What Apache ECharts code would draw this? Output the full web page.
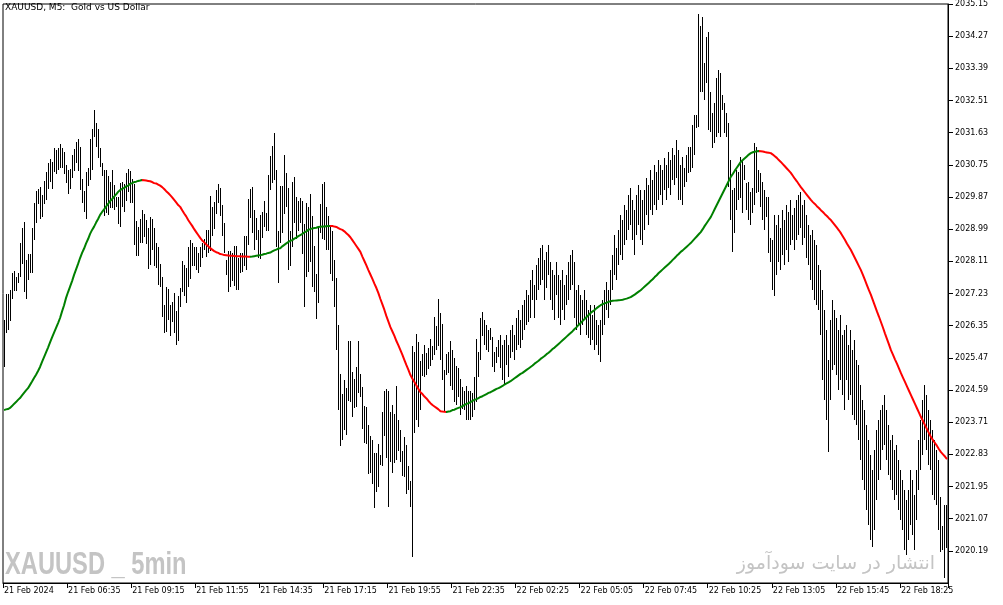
<!DOCTYPE html>
<html><head><meta charset="utf-8">
<script src="https://cdn.jsdelivr.net/npm/echarts@6/dist/echarts.min.js"></script>
<style>html,body{margin:0;padding:0;background:#fff}#c{width:1003px;height:605px}</style>
</head><body><div id="c"></div>
<script>
const tickLabels = ['21 Feb 2024','21 Feb 06:35','21 Feb 09:15','21 Feb 11:55','21 Feb 14:35','21 Feb 17:15','21 Feb 19:55','21 Feb 22:35','22 Feb 02:25','22 Feb 05:05','22 Feb 07:45','22 Feb 10:25','22 Feb 13:05','22 Feb 15:45','22 Feb 18:25'];
const highs = [
2026.50,2027.21,2027.21,2027.32,2027.80,2027.84,2027.69,2027.78,2028.60,2029.01,2029.19,2028.14,2028.32,2028.32,2029.01,2029.71,2030.04,2030.08,2030.15,2029.92,2030.30,2030.56,2030.81,2030.92,2030.83,2031.20,2031.15,2031.20,2031.32,2031.20,2031.11,2030.74,2030.62,2030.63,2031.02,2031.17,2031.38,2031.47,2031.24,2030.35,2030.04,2030.56,2030.67,2031.47,2031.74,2032.26,2031.90,2031.74,2031.20,2030.81,2030.62,2030.60,2030.44,2030.29,2030.60,2030.19,2029.88,2029.88,
2030.25,2030.29,2030.22,2030.52,2030.63,2030.59,2030.36,2030.22,2029.22,2029.04,2029.26,2029.52,2029.41,2029.24,2029.02,2029.32,2029.26,2029.02,2028.62,2028.51,2028.04,2027.69,2026.92,2027.40,2027.35,2026.92,2027.01,2027.24,2026.74,2027.15,2027.37,2028.13,2028.01,2027.92,2028.51,2028.70,2028.62,2028.50,2028.51,2028.35,2028.50,2028.61,2028.72,2028.97,2028.97,2029.90,2029.59,2029.72,2030.07,2030.23,2030.11,2029.65,2029.15,2028.15,2028.38,2028.38,2028.33,2028.53,2028.53,2028.21,
2028.33,2028.35,2028.81,2028.81,2029.81,2030.08,2030.14,2029.52,2029.29,2028.97,2029.38,2029.45,2029.76,2029.43,2030.48,2030.98,2031.27,2031.62,2030.61,2028.95,2030.16,2030.17,2031.02,2030.54,2030.11,2028.95,2030.28,2030.41,2029.86,2029.77,2029.84,2029.77,2029.13,2029.70,2029.59,2029.96,2029.34,2028.53,2027.77,2029.04,2029.68,2030.23,2030.27,2029.59,2029.34,2029.04,2028.95,2028.15,2027.66,2026.37,2025.03,2024.48,2024.87,2024.64,2025.92,2025.92,2025.09,2024.88,2025.21,2025.92,
2025.03,2024.67,2024.16,2024.12,2023.64,2023.34,2023.23,2022.88,2022.86,2023.12,2022.82,2024.00,2024.57,2024.61,2024.55,2024.00,2024.18,2023.94,2024.69,2023.77,2023.50,2022.93,2023.30,2023.09,2022.50,2022.11,2025.80,2025.64,2026.13,2025.89,2025.37,2025.58,2025.83,2025.61,2025.73,2025.98,2025.80,2026.60,2026.35,2027.07,2026.69,2026.40,2025.14,2025.58,2025.64,2025.94,2025.69,2025.46,2025.25,2025.19,2024.89,2024.67,2024.55,2024.70,2024.57,2024.55,2024.52,2024.94,2025.98,2025.64,
2026.56,2026.72,2026.50,2026.37,2026.23,2026.29,2026.04,2025.63,2025.77,2025.96,2026.09,2025.82,2025.96,2026.09,2025.82,2026.23,2026.37,2026.09,2026.56,2026.78,2026.50,2026.91,2027.05,2027.32,2027.19,2027.60,2027.87,2027.46,2028.01,2028.20,
2028.47,2028.56,2028.15,2028.37,2028.56,2028.09,2027.87,2027.74,2028.09,2027.74,2027.60,2027.87,2027.46,2027.74,2028.09,2028.28,2028.42,2028.09,2027.32,2027.46,2027.19,2027.05,2027.32,2027.05,2026.78,2026.91,2026.64,2026.91,2026.50,2026.37,
2026.50,2027.05,2027.32,2027.54,2027.32,2027.87,2028.28,2028.83,2028.47,2028.97,2029.38,2029.24,2029.65,2029.51,2029.92,2030.12,2029.79,2029.51,2029.92,2030.20,2030.06,2029.79,2030.06,2030.39,2030.20,2030.61,2030.34,2030.75,2030.55,2030.88,
2030.75,2030.61,2030.94,2030.75,2031.10,2030.88,2031.21,2031.02,2031.43,2031.16,2030.75,2030.96,2030.66,2031.02,2031.24,2031.24,2031.84,2032.11,2032.11,2034.88,2034.55,2034.79,2033.54,2034.25,2034.38,2032.74,2032.17,2032.44,2033.12,2033.34,
2033.26,2032.66,2032.44,2032.17,2031.89,2030.88,2030.06,2030.12,2030.61,2030.55,2030.96,2030.88,2030.75,2030.25,2030.28,2030.01,2030.12,2031.35,2031.24,2030.61,2030.53,2030.28,2030.06,2029.87,2029.87,2028.75,2028.69,2029.38,2029.10,2029.38,
2029.02,2029.51,2029.24,2029.65,2029.46,2029.79,2029.38,2029.57,2029.79,2029.92,2030.01,2029.65,2029.79,2029.38,2029.10,2028.83,2028.97,2028.69,2028.56,2028.01,2027.87,2027.32,2026.78,2026.23,2025.41,2026.50,2027.05,2026.78,2026.56,2026.23,
2026.64,2026.09,2026.23,2026.37,2025.82,2026.23,2025.68,2025.96,2025.41,2025.27,2024.73,2024.32,2024.04,2023.63,2023.22,2022.81,2022.40,2022.95,2023.49,2023.77,2024.04,2024.18,2024.45,2024.04,2023.63,2023.22,2023.36,2022.95,2023.08,2022.67,
2022.40,2022.13,2021.85,2021.58,2021.85,2022.40,2022.13,2021.72,2022.40,2023.22,2023.77,2024.32,2024.73,2024.45,2024.04,2023.77,2023.49,2023.22,2022.95,2022.67,2021.66,2020.87,2021.44,2021.44
];
const lows = [
2025.22,2026.14,2026.23,2026.48,2027.08,2027.30,2027.30,2027.52,2027.69,2028.05,2027.28,2027.07,2027.60,2027.78,2027.80,2028.69,2029.15,2029.69,2029.28,2029.33,2029.69,2029.78,2030.10,2030.29,2030.10,2030.56,2030.51,2030.60,2030.65,2030.65,2030.50,2030.26,2029.95,2030.10,2030.40,2030.59,2030.79,2030.59,2030.06,2029.71,2029.47,2029.28,2030.17,2030.33,2030.62,2031.52,2031.24,2030.95,2030.70,2030.44,2029.34,2029.42,2029.37,2029.56,2029.58,2029.51,2029.60,2029.13,
2029.06,2029.61,2029.45,2029.75,2030.02,2029.70,2029.70,2028.56,2028.26,2028.26,2028.62,2028.62,2028.77,2028.59,2027.89,2028.01,2028.42,2027.97,2027.92,2027.47,2027.42,2026.60,2026.14,2026.19,2026.51,2026.07,2026.46,2026.14,2025.82,2025.92,2026.85,2027.28,2027.15,2026.96,2027.42,2027.62,2027.97,2027.99,2027.88,2027.79,2027.95,2028.20,2028.41,2028.24,2028.33,2028.38,2028.79,2028.99,2029.41,2029.70,2029.34,2028.79,2028.33,2027.74,2027.26,2027.42,2027.56,2027.44,2027.33,2027.33,
2027.78,2027.83,2027.99,2027.88,2028.56,2029.29,2028.88,2028.41,2028.68,2028.20,2028.17,2028.74,2029.06,2028.93,2028.95,2030.05,2030.25,2030.34,2028.51,2027.53,2028.62,2028.88,2029.41,2029.61,2027.86,2027.99,2028.50,2029.17,2028.72,2028.93,2029.15,2028.31,2026.87,2027.69,2027.83,2028.08,2027.40,2027.26,2026.54,2026.96,2028.88,2028.72,2028.70,2028.42,2028.41,2027.77,2027.56,2026.85,2025.69,2024.03,2023.06,2023.21,2023.50,2023.36,2024.30,2024.25,2023.86,2024.09,2024.12,2024.52,
2024.39,2023.52,2023.13,2023.12,2022.30,2022.33,2022.02,2021.36,2021.81,2021.93,2022.54,2022.51,2023.32,2022.72,2021.40,2022.63,2022.33,2022.59,2022.68,2022.93,2022.61,2022.24,2022.22,2021.75,2021.86,2021.40,2020.02,2023.41,2023.77,2023.57,2024.05,2024.96,2024.94,2025.00,2025.16,2025.25,2025.40,2025.55,2025.69,2025.80,2025.40,2024.87,2024.00,2025.00,2025.05,2024.69,2024.59,2024.27,2024.18,2024.39,2023.91,2024.06,2024.05,2023.77,2023.77,2023.77,2023.85,2024.03,2024.27,2024.94,
2025.41,2026.07,2025.82,2025.68,2025.63,2025.96,2025.22,2025.08,2025.33,2025.49,2025.19,2024.86,2024.73,2025.27,2024.95,2025.46,2025.63,2025.41,2025.68,2025.82,2025.74,2025.96,2026.23,2026.37,2026.45,2026.56,2027.05,2026.56,2027.05,2027.32,
2027.46,2027.60,2027.05,2027.38,2027.74,2027.05,2026.78,2026.50,2027.19,2026.56,2026.37,2026.78,2026.50,2026.91,2027.05,2027.32,2027.46,2026.56,2026.23,2026.37,2026.09,2026.37,2026.50,2026.09,2026.01,2025.82,2025.96,2025.68,2025.82,2025.55,
2025.35,2026.09,2026.37,2026.78,2026.56,2026.91,2027.32,2027.74,2027.60,2028.01,2028.28,2028.15,2028.56,2028.69,2028.97,2029.10,2028.69,2028.28,2028.83,2029.10,2028.69,2028.56,2028.97,2029.38,2029.10,2029.51,2029.38,2029.65,2029.51,2029.79,
2029.92,2029.65,2030.06,2029.79,2030.12,2029.92,2030.34,2030.20,2030.39,2029.79,2029.79,2029.65,2030.14,2030.28,2030.53,2030.55,2030.66,2031.02,2031.76,2031.78,2032.74,2032.74,2032.52,2032.99,2031.70,2031.65,2031.21,2031.35,2031.51,2031.62,
2031.51,2032.25,2031.62,2031.51,2030.14,2029.24,2028.37,2028.88,2029.51,2029.79,2029.84,2029.43,2030.34,2029.51,2029.24,2029.10,2029.43,2029.65,2029.98,2030.01,2029.60,2029.24,2028.97,2029.32,2028.34,2028.09,2027.32,2027.16,2027.74,2028.09,
2027.87,2028.28,2028.01,2028.42,2028.09,2028.56,2028.69,2028.42,2028.69,2028.83,2029.02,2028.56,2028.75,2028.20,2028.01,2027.60,2027.32,2027.05,2026.91,2026.78,2026.09,2024.86,2024.32,2023.77,2022.89,2024.32,2025.14,2025.27,2025.00,2024.59,
2024.86,2024.45,2024.04,2024.86,2024.32,2024.45,2023.90,2023.77,2023.63,2023.22,2022.67,2022.13,2021.85,2021.31,2020.90,2020.49,2020.29,2020.76,2021.58,2022.13,2022.40,2022.95,2023.08,2022.67,2022.26,2022.13,2021.85,2021.58,2021.72,2021.31,
2021.03,2020.76,2020.21,2020.07,2020.49,2020.90,2020.62,2020.21,2021.03,2021.85,2022.40,2022.81,2023.22,2022.95,2022.54,2022.40,2021.72,2021.58,2021.44,2020.76,2020.16,2020.21,2019.45,2020.27
];
const maValues = [
2024.04,2024.06,2024.07,2024.10,2024.15,2024.21,2024.26,2024.32,2024.37,2024.44,2024.51,2024.58,2024.64,2024.73,2024.82,2024.92,2025.01,2025.11,2025.22,2025.36,2025.49,2025.62,2025.75,2025.89,2026.03,2026.16,2026.29,2026.42,2026.56,2026.74,2026.91,2027.11,2027.27,2027.42,2027.57,2027.74,2027.89,2028.04,2028.20,2028.34,2028.46,2028.60,2028.72,2028.86,2028.97,2029.06,2029.17,2029.27,2029.38,2029.46,2029.53,2029.61,2029.68,2029.76,2029.81,2029.88,2029.94,2030.01,2030.06,2030.09,2030.12,2030.16,2030.18,2030.23,2030.25,2030.28,2030.29,2030.31,2030.32,2030.335,
2030.33,2030.32,2030.31,2030.30,2030.28,2030.25,2030.24,2030.21,2030.18,2030.14,2030.09,2030.03,2029.98,2029.92,2029.86,2029.79,2029.72,2029.65,2029.60,2029.51,2029.42,2029.34,2029.24,2029.16,2029.08,2028.99,2028.91,2028.83,2028.75,2028.68,2028.63,2028.57,2028.52,2028.47,2028.43,2028.39,2028.36,2028.34,2028.31,2028.30,2028.28,2028.275,2028.27,2028.265,2028.26,2028.255,2028.25,2028.248,2028.246,2028.244,2028.242,2028.24,2028.238,2028.236,
2028.24,2028.25,2028.26,2028.27,2028.28,2028.29,2028.31,2028.32,2028.34,2028.35,2028.38,2028.41,2028.43,2028.46,2028.47,2028.52,2028.56,2028.60,2028.64,2028.67,2028.69,2028.73,2028.76,2028.80,2028.83,2028.86,2028.90,2028.93,2028.97,2028.99,2029.01,2029.02,2029.03,2029.05,2029.055,2029.06,2029.065,2029.07,2029.075,2029.08,
2029.075,2029.06,2029.05,2029.02,2028.99,2028.97,2028.93,2028.88,2028.83,2028.77,2028.69,2028.61,2028.53,2028.45,2028.37,2028.24,2028.12,2028.00,2027.87,2027.75,2027.63,2027.50,2027.38,2027.24,2027.08,2026.93,2026.78,2026.61,2026.46,2026.31,2026.19,2026.07,2025.93,2025.81,2025.68,2025.55,2025.41,2025.27,2025.14,2025.00,2024.90,2024.81,2024.71,2024.62,2024.53,2024.48,2024.41,2024.36,2024.29,2024.23,2024.18,2024.14,2024.10,2024.06,2024.01,2024.00,2023.995,2023.99,
2024.00,2024.01,2024.04,2024.05,2024.08,2024.10,2024.12,2024.15,2024.18,2024.21,2024.23,2024.26,2024.29,2024.32,2024.34,2024.37,
2024.40,2024.42,2024.45,2024.48,2024.51,2024.53,2024.56,2024.59,2024.62,2024.64,2024.67,2024.70,2024.74,2024.77,2024.80,2024.83,2024.87,2024.91,2024.95,2024.99,
2025.03,2025.06,2025.10,2025.14,2025.18,2025.22,2025.26,2025.31,2025.35,2025.39,2025.44,2025.48,2025.52,2025.57,2025.61,2025.66,2025.71,2025.75,2025.80,2025.85,
2025.90,2025.95,2026.00,2026.05,2026.10,2026.15,2026.20,2026.26,2026.31,2026.37,2026.42,2026.48,2026.53,2026.59,2026.64,2026.70,2026.74,2026.78,2026.83,2026.87,
2026.91,2026.94,2026.96,2026.98,2027.00,2027.02,2027.03,2027.035,2027.04,2027.045,2027.05,2027.06,2027.076,2027.09,2027.11,2027.13,2027.166,2027.20,2027.24,2027.28,
2027.32,2027.37,2027.42,2027.47,2027.52,2027.57,2027.62,2027.68,2027.73,2027.79,2027.84,2027.89,2027.94,2027.99,2028.04,2028.09,2028.15,2028.20,2028.26,2028.31,
2028.37,2028.41,2028.46,2028.51,2028.56,2028.61,2028.67,2028.73,2028.79,2028.85,2028.91,2028.99,2029.08,2029.16,2029.24,2029.32,2029.43,2029.54,2029.65,2029.76,
2029.87,2029.98,2030.09,2030.20,2030.31,2030.42,2030.50,2030.59,2030.67,2030.75,2030.83,2030.88,2030.93,2030.98,2031.03,2031.07,2031.095,2031.11,2031.12,2031.127,
2031.12,2031.113,2031.10,2031.09,2031.08,2031.07,2031.03,2030.985,2030.94,2030.88,2030.83,2030.77,2030.71,2030.65,2030.59,2030.53,2030.45,2030.37,2030.30,2030.22,
2030.14,2030.07,2030.00,2029.93,2029.86,2029.79,2029.73,2029.68,2029.62,2029.57,2029.51,2029.46,2029.40,2029.35,2029.29,2029.24,2029.17,2029.10,2029.03,2028.96,
2028.88,2028.79,2028.70,2028.60,2028.51,2028.42,2028.31,2028.20,2028.09,2027.98,2027.87,2027.74,2027.60,2027.46,2027.32,2027.19,2027.04,2026.89,2026.74,2026.60,
2026.45,2026.30,2026.14,2025.99,2025.84,2025.68,2025.56,2025.43,2025.31,2025.18,2025.05,2024.93,2024.81,2024.69,2024.57,2024.45,2024.33,2024.21,2024.09,2023.97,
2023.85,2023.74,2023.63,2023.52,2023.41,2023.30,2023.22,2023.14,2023.06,2022.97,2022.89,2022.83,2022.77,2022.70
];

const barCount = highs.length;
const categories = [];
for (let i = 0; i < barCount; i++) categories.push(i % 32 === 0 ? (tickLabels[i / 32] || '') : ' ' + i);

const barData = highs.map((h, i) => [i, h, lows[i]]);

// colour pieces of the MA: green when rising, red when falling
const pieces = [];
let start = 0, dir = maValues[1] >= maValues[0];
for (let i = 1; i < maValues.length; i++) {
  const d = maValues[i] >= maValues[i - 1];
  if (d !== dir) { pieces.push({ gte: start, lt: i - 1, color: dir ? '#008000' : '#ff0000' }); start = i - 1; dir = d; }
}
pieces.push({ gte: start, lte: barCount, color: dir ? '#008000' : '#ff0000' });

const chart = echarts.init(document.getElementById('c'), null, { renderer: 'canvas' });
const FONT = 'DejaVu Sans';
chart.setOption({
  animation: false,
  backgroundColor: '#fff',
  grid: { left: 3, right: 55, top: 3, bottom: 22, show: true, borderColor: '#000', borderWidth: 1, backgroundColor: '#fff' },
  xAxis: {
    type: 'category', data: categories, boundaryGap: true,
    axisLine: { show: true, lineStyle: { color: '#000', width: 1 } },
    axisTick: { show: true, interval: 31, length: 5, lineStyle: { color: '#000' } },
    axisLabel: { interval: 31, align: 'left', color: '#000', fontFamily: FONT, fontSize: 8, margin: 4,
      formatter: v => v.charAt(0) === ' ' ? '' : v },
    splitLine: { show: false }
  },
  yAxis: {
    type: 'value', position: 'right', min: 2019.31, max: 2035.15, interval: 0.88, scale: true,
    axisLine: { show: true, lineStyle: { color: '#000', width: 1 } },
    axisTick: { show: true, length: 5, lineStyle: { color: '#000' } },
    axisLabel: { showMinLabel: false, color: '#000', fontFamily: FONT, fontSize: 8, margin: 7,
      formatter: v => v.toFixed(2) },
    splitLine: { show: false }
  },
  visualMap: { show: false, type: 'piecewise', dimension: 0, seriesIndex: 1, pieces: pieces },
  graphic: [
    { type: 'text', x: 5, y: 8, style: { text: 'XAUUSD, M5:  Gold vs US Dollar', fill: '#000', font: '9px "DejaVu Sans"', verticalAlign: 'middle' } },
    { type: 'text', x: 5, y: 565, scaleX: 0.74, style: { text: 'XAUUSD _ 5min', fill: '#c4c4c4', font: 'bold 32px "Liberation Sans"', verticalAlign: 'middle' } },
    { type: 'text', x: 935, y: 564, style: { text: 'انتشار در سایت سودآموز', fill: '#c4c4c4', font: '19px "DejaVu Sans"', align: 'right', verticalAlign: 'middle' } }
  ],
  series: [
    {
      type: 'custom', data: barData, encode: { x: 0, y: [1, 2] }, z: 2,
      renderItem: function (params, api) {
        const h = api.value(1), l = api.value(2);
        const p1 = api.coord([api.value(0), h]);
        const p2 = api.coord([api.value(0), l]);
        const x = Math.floor(p1[0]);
        const y1 = Math.round(p1[1]), y2 = Math.round(p2[1]);
        return { type: 'rect', shape: { x: x, y: y1, width: 1, height: Math.max(1, y2 - y1) }, style: { fill: '#000' } };
      }
    },
    {
      type: 'line', data: maValues, showSymbol: false, smooth: false, z: 5,
      lineStyle: { width: 2 }
    }
  ]
});
</script></body></html>
